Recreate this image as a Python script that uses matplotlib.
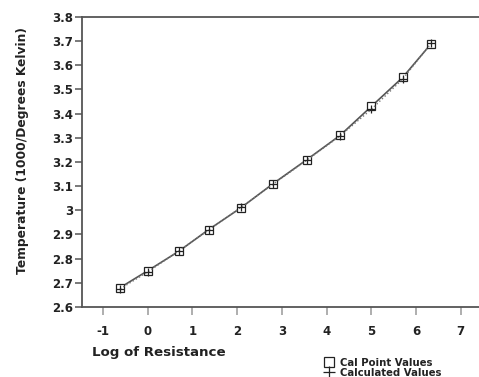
import matplotlib.pyplot as plt
from matplotlib.lines import Line2D
from matplotlib.ticker import FuncFormatter

plt.rcParams['font.family'] = ['DejaVu Sans']
plt.rcParams['font.weight'] = 'bold'
plt.rcParams['axes.unicode_minus'] = False

# data
log_r = [-0.62, 0.0, 0.69, 1.36, 2.08, 2.80, 3.56, 4.30, 5.00, 5.70, 6.34]
cal_temp = [2.68, 2.75, 2.83, 2.92, 3.01, 3.11, 3.21, 3.31, 3.43, 3.55, 3.69]
calc_temp = [2.675, 2.745, 2.832, 2.918, 3.012, 3.108, 3.208, 3.308, 3.418, 3.543, 3.692]

x_ticks = [-1, 0, 1, 2, 3, 4, 5, 6, 7]
y_ticks = [2.6, 2.7, 2.8, 2.9, 3.0, 3.1, 3.2, 3.3, 3.4, 3.5, 3.6, 3.7, 3.8]

fig = plt.figure(figsize=(4.79, 3.77), dpi=100)
ax = fig.add_axes([0.1712, 0.1857, 0.83, 0.7692])

ax.plot(log_r, cal_temp, color='#555555', lw=1.2, marker='s', ms=5.5,
        mfc='white', mec='#222222', mew=0.9)
ax.plot(log_r, calc_temp, color='#777777', lw=1.0, ls=':', marker='+', ms=5.5,
        mec='#222222', mew=0.9)

ax.set_xlim(-1.47, 7.42)
ax.set_ylim(2.6, 3.8)
ax.set_xticks(x_ticks)
ax.set_yticks(y_ticks)
ax.yaxis.set_major_formatter(FuncFormatter(lambda v, p: f'{v:g}'))

for s in ['left', 'bottom', 'top']:
    ax.spines[s].set_color('#555555')
    ax.spines[s].set_linewidth(1.3)
ax.spines['right'].set_visible(False)
ax.tick_params(axis='y', length=5, width=1.1, color='#555555', labelsize=8.5,
               pad=1.5, labelcolor='#222222')
ax.tick_params(axis='x', length=6, width=1.1, color='#999999', labelsize=8.5,
               pad=7, labelcolor='#222222')

fig.text(0.047, 0.6, 'Temperature (1000/Degrees Kelvin)', rotation=90,
         ha='center', va='center', fontsize=8.8, color='#222222')
fig.text(0.331, 0.064, 'Log of Resistance', ha='center', va='center',
         fontsize=9.6, color='#222222')

# legend
handles = [
    Line2D([], [], ls='none', marker='s', ms=7, mfc='white', mec='#222222', mew=0.9),
    Line2D([], [], ls='none', marker='+', ms=8, mec='#222222', mew=0.9),
]
fig.legend(handles, ['Cal Point Values', 'Calculated Values'],
           loc='lower left', bbox_to_anchor=(0.662, -0.021), frameon=False,
           fontsize=7.3, handlelength=1.0, handletextpad=0.55, labelspacing=0.0,
           borderpad=0.2, labelcolor='#222222')

fig.savefig('out.png', dpi=100)
